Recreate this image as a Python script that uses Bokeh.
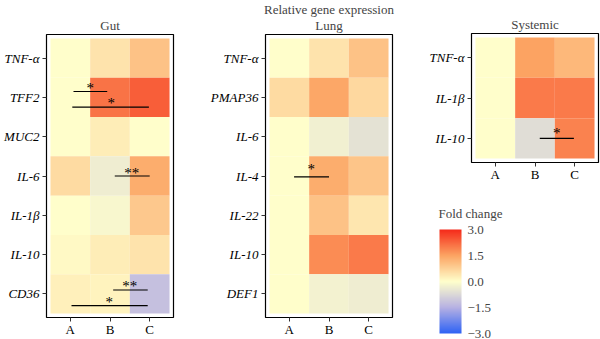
from bokeh.plotting import figure
from bokeh.models import (Range1d, FixedTicker, ColumnDataSource, LinearColorMapper,
                          ColorBar, Title, CustomJSTickFormatter)
from bokeh.layouts import row, column
from bokeh.embed import file_html
from bokeh.resources import INLINE
from bokeh.core.properties import value

# ---------------- data ----------------
groups = ["A", "B", "C"]

gut_genes = ["TNF-α", "TFF2", "MUC2", "IL-6", "IL-1β", "IL-10", "CD36"]
gut_A = [0.0, 0.0, 0.0, 0.6, 0.0, 0.1, 0.25]
gut_B = [0.45, 2.1, 0.3, -0.35, -0.15, 0.3, 0.2]
gut_C = [1.0, 2.35, 0.02, 1.35, 0.9, 0.45, -1.2]

lung_genes = ["TNF-α", "PMAP36", "IL-6", "IL-4", "IL-22", "IL-10", "DEF1"]
lung_A = [0.0, 0.6, 0.0, 0.0, 0.0, 0.0, 0.0]
lung_B = [0.45, 1.45, -0.3, 1.35, 1.0, 1.8, -0.25]
lung_C = [1.0, 0.65, -0.55, 0.95, 0.4, 2.0, -0.35]

sys_genes = ["TNF-α", "IL-1β", "IL-10"]
sys_A = [0.0, 0.0, 0.0]
sys_B = [1.5, 2.0, -0.65]
sys_C = [1.15, 2.0, 1.9]

# significance marks: gene, label
gut_sig_gene = ["TFF2", "TFF2", "IL-6", "CD36", "CD36"]
gut_sig_label = ["*", "*", "**", "**", "*"]
lung_sig_gene = ["IL-4"]
lung_sig_label = ["*"]
sys_sig_gene = ["IL-10"]
sys_sig_label = ["*"]

# bracket geometry (group-axis span, vertical offsets from row centre)
gut_sig_x0 = [1.08, 1.05, 2.12, 2.08, 1.03]
gut_sig_x1 = [1.93, 2.98, 3.0, 2.95, 2.95]
gut_sig_dy = [-0.15, 0.25, 0.0, -0.1, 0.3]
gut_sig_lx = [1.5, 2.03, 2.55, 2.5, 1.98]
gut_sig_ldy = [-0.25, 0.15, -0.08, -0.19, 0.21]
lung_sig_x0 = [1.12]
lung_sig_x1 = [2.0]
lung_sig_dy = [0.02]
lung_sig_lx = [1.55]
lung_sig_ldy = [-0.18]
sys_sig_x0 = [2.12]
sys_sig_x1 = [2.98]
sys_sig_dy = [0.0]
sys_sig_lx = [2.55]
sys_sig_ldy = [-0.13]

fold_ticks = [-3.0, -1.5, 0.0, 1.5, 3.0]

# ---------------- colours ----------------
anchors = [(-3.0, (0x2E, 0x63, 0xF5)), (-1.5, (0xB7, 0xB1, 0xE3)), (0.0, (0xFF, 0xFF, 0xCC)),
           (1.5, (0xFC, 0xA4, 0x63)), (3.0, (0xF5, 0x2A, 0x1A))]
palette = []
N = 256
for k in range(N):
    v = -3 + 6 * k / (N - 1)
    for (a, ca), (b, cb) in zip(anchors[:-1], anchors[1:]):
        if a <= v <= b:
            t = (v - a) / (b - a)
            c = tuple(int(round(ca[i] + (cb[i] - ca[i]) * t)) for i in range(3))
            break
    palette.append("#%02x%02x%02x" % c)
mapper = LinearColorMapper(palette=palette, low=-3, high=3)

FONT = "Liberation Serif"


def style_title(t, standoff, lh=0.8):
    t.text_font = FONT
    t.text_font_size = "13px"
    t.text_font_style = "normal"
    t.standoff = standoff
    t.text_line_height = lh


def panel(title, genes, cols, sig_gene, sig_label, x0, x1, dy, lx, ldy,
          width, height, left, right, top, bottom, supertitle=None):
    n = len(genes)
    xs, ys, vs = [], [], []
    for j, col in enumerate(cols):
        for i, v in enumerate(col):
            xs.append(j + 1)
            ys.append(i + 1)
            vs.append(v)
    p = figure(width=width, height=height, toolbar_location=None, output_backend="svg",
               x_range=Range1d(0.4, 3.6), y_range=Range1d(n + 0.6, 0.4),
               min_border_left=left, min_border_right=right, min_border_top=top,
               min_border_bottom=bottom, title=supertitle if supertitle else title)
    p.title.align = "center"
    if supertitle:
        style_title(p.title, -6)
        t2 = Title(text=title, align="center")
        style_title(t2, 4)
        p.add_layout(t2, "above")
    else:
        style_title(p.title, 4)
    p.rect(x="x", y="y", width=1, height=1, fill_color={"field": "v", "transform": mapper},
           line_color=None, source=ColumnDataSource(dict(x=xs, y=ys, v=vs)))
    # significance brackets
    rows = [genes.index(g) + 1 for g in sig_gene]
    ly = [r + d for r, d in zip(rows, dy)]
    p.segment(x0=x0, x1=x1, y0=ly, y1=ly, line_color="black", line_width=1.2)
    ty = [r + d for r, d in zip(rows, ldy)]
    p.text(x=lx, y=ty, text=sig_label, text_align="center", text_baseline="middle",
           text_font=value(FONT), text_font_size="15px", text_color="black")
    p.grid.visible = False
    p.outline_line_color = "black"
    p.outline_line_width = 1.2
    p.xaxis.ticker = FixedTicker(ticks=[1, 2, 3])
    p.xaxis.major_label_overrides = {j + 1: g for j, g in enumerate(groups)}
    p.yaxis.ticker = FixedTicker(ticks=list(range(1, n + 1)))
    p.yaxis.major_label_overrides = {i + 1: g for i, g in enumerate(genes)}
    for ax in (p.xaxis[0], p.yaxis[0]):
        ax.axis_line_color = None
        ax.minor_tick_line_color = None
        ax.major_tick_line_color = "#333333"
        ax.major_tick_in = 0
        ax.major_tick_out = 4
        ax.major_label_text_font = FONT
        ax.major_label_text_font_size = "13px"
        ax.major_label_text_color = "black"
    p.xaxis.major_label_standoff = 0
    p.yaxis.major_label_standoff = 3
    p.yaxis.major_label_text_font_style = "italic"
    return p


gut = panel("Gut", gut_genes, [gut_A, gut_B, gut_C], gut_sig_gene, gut_sig_label,
            gut_sig_x0, gut_sig_x1, gut_sig_dy, gut_sig_lx, gut_sig_ldy,
            200, 339, 46, 27, 34, 20)
lung = panel("Lung", lung_genes, [lung_A, lung_B, lung_C], lung_sig_gene, lung_sig_label,
             lung_sig_x0, lung_sig_x1, lung_sig_dy, lung_sig_lx, lung_sig_ldy,
             210, 339, 65, 18, 34, 20, supertitle="Relative gene expression")
sysf = panel("Systemic", sys_genes, [sys_A, sys_B, sys_C], sys_sig_gene, sys_sig_label,
             sys_sig_x0, sys_sig_x1, sys_sig_dy, sys_sig_lx, sys_sig_ldy,
             190, 184, 61, 2, 33, 20)

leg = figure(width=190, height=155, toolbar_location=None, output_backend="svg",
             x_axis_type=None, y_axis_type=None, min_border_left=61, min_border_right=2,
             min_border_top=38, min_border_bottom=0, outline_line_color=None,
             x_range=Range1d(0, 1), y_range=Range1d(0, 1), title="Fold change")
leg.title.align = "left"
style_title(leg.title, 4)
leg.title.offset = -33
leg.grid.visible = False
cb = ColorBar(color_mapper=mapper, ticker=FixedTicker(ticks=fold_ticks),
              formatter=CustomJSTickFormatter(code="return (tick < 0 ? '\u2212' : '') + Math.abs(tick).toFixed(1);"),
              width=22, height=104, location=(-32, 6), padding=0, margin=0,
              major_label_text_font=FONT, major_label_text_font_size="13px",
              label_standoff=6, major_tick_line_color=None, minor_tick_line_color=None,
              bar_line_color=None, border_line_color=None, background_fill_color=None)
leg.add_layout(cb, "center")

layout = row(gut, lung, column(sysf, leg))
open("out.html", "w").write(file_html(layout, INLINE))
